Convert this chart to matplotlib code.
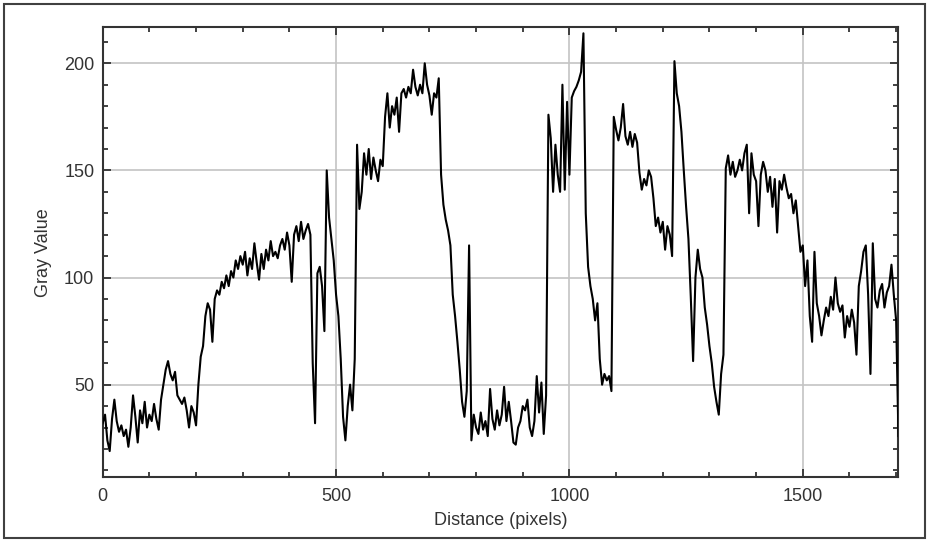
import matplotlib
matplotlib.use("Agg")
import matplotlib.pyplot as plt
from matplotlib.ticker import MultipleLocator
from matplotlib.patches import Rectangle
import numpy as np

# Distance sampled every 5 pixels
step = 5
gray_values = [
    32, 36, 24, 19, 34, 43, 33, 28, 31, 26,
    29, 21, 30, 45, 35, 23, 38, 32, 42, 30,
    36, 33, 41, 34, 29, 43, 50, 57, 61, 55,
    52, 56, 45, 43, 41, 44, 38, 30, 40, 37,
    31, 50, 63, 68, 82, 88, 85, 70, 90, 94,
    92, 98, 95, 101, 96, 103, 100, 108, 104, 110,
    106, 112, 101, 109, 104, 116, 107, 99, 111, 104,
    113, 108, 117, 110, 112, 109, 115, 118, 113, 121,
    115, 98, 120, 124, 117, 126, 118, 122, 125, 120,
    60, 32, 102, 105, 96, 75, 150, 128, 118, 108,
    92, 82, 62, 35, 24, 40, 50, 38, 62, 162,
    132, 140, 158, 148, 160, 146, 156, 150, 145, 155,
    152, 175, 186, 170, 180, 176, 184, 168, 186, 188,
    184, 189, 186, 197, 189, 185, 190, 186, 200, 190,
    185, 176, 186, 184, 193, 148, 134, 127, 122, 115,
    92, 82, 70, 57, 42, 35, 47, 115, 24, 36,
    30, 27, 37, 29, 33, 26, 48, 34, 29, 38,
    31, 36, 49, 33, 42, 33, 23, 22, 30, 33,
    40, 38, 43, 30, 26, 33, 54, 37, 51, 27,
    45, 176, 165, 140, 162, 148, 140, 190, 141, 182,
    148, 184, 187, 189, 192, 196, 214, 130, 105, 96,
    90, 80, 88, 62, 50, 55, 52, 54, 47, 175,
    169, 164, 170, 181, 166, 162, 168, 161, 167, 163,
    149, 141, 146, 143, 150, 147, 137, 124, 128, 121,
    126, 113, 124, 120, 110, 201, 186, 180, 168, 150,
    133, 118, 91, 61, 100, 113, 104, 100, 86, 78,
    68, 60, 49, 42, 36, 55, 64, 151, 157, 148,
    154, 147, 150, 155, 150, 158, 162, 130, 158, 148,
    145, 124, 148, 154, 150, 140, 147, 133, 146, 121,
    145, 141, 148, 142, 137, 139, 130, 136, 124, 112,
    115, 96, 108, 82, 70, 112, 88, 82, 73, 80,
    86, 82, 91, 85, 100, 88, 84, 87, 72, 82,
    77, 85, 79, 64, 96, 103, 112, 115, 92, 55,
    116, 90, 86, 94, 97, 86, 93, 96, 106, 92,
    80, 26,
]
distance = np.arange(len(gray_values)) * step

x_ticks = [0, 500, 1000, 1500]
y_ticks = [50, 100, 150, 200]

W, H = 930, 543
fig = plt.figure(figsize=(W / 100, H / 100), dpi=100)
fig.patch.set_facecolor("white")
ax = fig.add_axes([102.7 / W, 1 - 477 / H, (898 - 102.7) / W, (477 - 27.3) / H])

ax.plot(distance, gray_values, color="black", lw=1.5, zorder=3)

ax.set_xlim(0, 1704)
ax.set_ylim(6.9, 216.8)
ax.set_xticks(x_ticks)
ax.set_yticks(y_ticks)
ax.xaxis.set_minor_locator(MultipleLocator(100))
ax.yaxis.set_minor_locator(MultipleLocator(10))
ax.grid(True, which="major", color="#c4c4c4", lw=1.2, zorder=0)
ax.tick_params(which="both", direction="in", top=True, right=True,
               color="#333333", labelcolor="#333333", labelsize=13)
ax.tick_params(axis="x", which="major", pad=8)
ax.tick_params(axis="y", which="major", pad=6)
ax.tick_params(which="major", length=6, width=1.3)
ax.tick_params(which="minor", length=3.5, width=1.3)
for s in ax.spines.values():
    s.set_color("#333333")
    s.set_linewidth(1.5)
ax.set_xlabel("Distance (pixels)", fontsize=13, color="#333333", labelpad=5)
ax.set_ylabel("Gray Value", fontsize=13, color="#333333", labelpad=9)
for t in ax.get_xticklabels() + ax.get_yticklabels():
    t.set_family("Liberation Sans")
ax.xaxis.label.set_family("Liberation Sans")
ax.yaxis.label.set_family("Liberation Sans")

fig.patches.append(Rectangle((3.5 / W, 1 - 537.5 / H), (925 - 3.5) / W, (537.5 - 3.5) / H,
                             transform=fig.transFigure, fill=False,
                             edgecolor="#404040", lw=1.5))

fig.savefig("out.png", dpi=100)
